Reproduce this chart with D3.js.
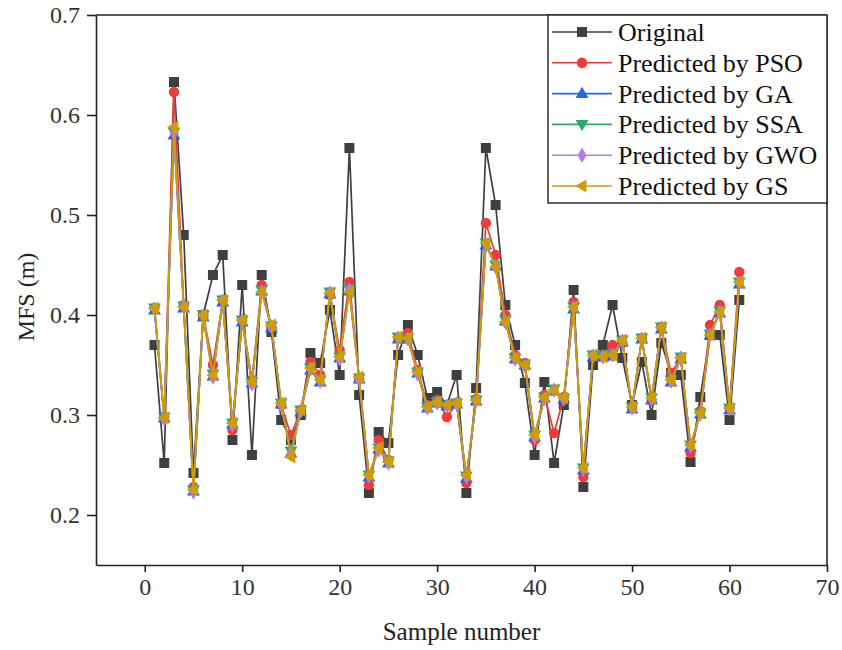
<!DOCTYPE html>
<html lang="en">
<head>
<meta charset="utf-8">
<title>MFS prediction</title>
<style>
 body { margin: 0; background: #fff; font-family: "Liberation Serif", "Times New Roman", serif; }
</style>
<script src="https://d3js.org/d3.v7.min.js"></script>
</head>
<body>
<div id="chart"></div>
<script>

 //Data: sample 1..61
 const original = [0.370,0.252,0.633,0.480,0.242,0.400,0.440,0.460,0.275,0.430,
                   0.260,0.440,0.383,0.295,0.275,0.300,0.362,0.352,0.405,0.340,
                   0.567,0.320,0.222,0.283,0.272,0.360,0.390,0.360,0.317,0.323,
                   0.310,0.340,0.222,0.327,0.567,0.510,0.410,0.370,0.332,0.260,
                   0.333,0.252,0.310,0.425,0.228,0.350,0.370,0.410,0.357,0.310,
                   0.353,0.300,0.372,0.342,0.340,0.253,0.318,0.380,0.380,0.295,
                   0.415];
 const pso = [0.407,0.298,0.623,0.410,0.228,0.400,0.350,0.415,0.285,0.395,
              0.335,0.430,0.388,0.310,0.280,0.305,0.353,0.340,0.420,0.365,
              0.433,0.336,0.230,0.275,0.255,0.377,0.382,0.345,0.310,0.315,
              0.298,0.312,0.232,0.316,0.492,0.460,0.400,0.360,0.352,0.275,
              0.320,0.282,0.318,0.413,0.238,0.360,0.360,0.370,0.372,0.308,
              0.377,0.315,0.388,0.342,0.357,0.262,0.304,0.390,0.410,0.307,
              0.443];
 const ga = [0.405,0.297,0.580,0.407,0.224,0.398,0.339,0.413,0.291,0.393,
             0.332,0.424,0.387,0.311,0.262,0.303,0.345,0.333,0.421,0.357,
             0.424,0.336,0.238,0.266,0.252,0.376,0.376,0.342,0.307,0.312,
             0.309,0.311,0.237,0.314,0.470,0.449,0.394,0.356,0.350,0.278,
             0.317,0.324,0.316,0.406,0.245,0.358,0.358,0.359,0.373,0.306,
             0.376,0.315,0.386,0.333,0.356,0.268,0.301,0.380,0.402,0.305,
             0.431];
 const ssa = [0.407,0.298,0.583,0.409,0.225,0.400,0.341,0.415,0.292,0.395,
              0.333,0.425,0.389,0.312,0.264,0.305,0.347,0.335,0.423,0.358,
              0.426,0.337,0.240,0.267,0.254,0.378,0.377,0.343,0.308,0.313,
              0.310,0.312,0.239,0.315,0.472,0.450,0.395,0.357,0.351,0.280,
              0.318,0.326,0.317,0.408,0.247,0.360,0.360,0.361,0.375,0.308,
              0.377,0.317,0.388,0.335,0.358,0.270,0.302,0.381,0.404,0.307,
              0.433];
 const gwo = [0.406,0.296,0.582,0.408,0.223,0.399,0.338,0.414,0.290,0.394,
              0.331,0.423,0.388,0.310,0.261,0.304,0.346,0.334,0.422,0.356,
              0.425,0.335,0.239,0.265,0.252,0.377,0.376,0.341,0.307,0.312,
              0.309,0.311,0.238,0.314,0.471,0.448,0.393,0.356,0.349,0.278,
              0.316,0.325,0.316,0.407,0.246,0.359,0.358,0.360,0.374,0.307,
              0.376,0.316,0.387,0.334,0.357,0.269,0.301,0.380,0.403,0.306,
              0.432];
 const gs = [0.407,0.297,0.588,0.408,0.225,0.400,0.340,0.415,0.292,0.395,
             0.333,0.423,0.390,0.312,0.258,0.305,0.347,0.335,0.422,0.358,
             0.423,0.338,0.240,0.267,0.253,0.378,0.377,0.343,0.308,0.313,
             0.310,0.312,0.240,0.315,0.472,0.448,0.393,0.357,0.350,0.280,
             0.318,0.325,0.317,0.408,0.247,0.360,0.358,0.360,0.375,0.308,
             0.377,0.317,0.388,0.335,0.357,0.270,0.302,0.380,0.403,0.307,
             0.433];

 const seriesNames = ['Original', 'Predicted by PSO', 'Predicted by GA', 'Predicted by SSA', 'Predicted by GWO', 'Predicted by GS'];
 const seriesValues = [original, pso, ga, ssa, gwo, gs];
 const seriesColors = ['#3f3f3f', '#f23a3a', '#2366e0', '#2fa868', '#b47be6', '#d09c00'];
 const seriesSymbols = [d3.symbolSquare, d3.symbolCircle, 'up', 'down', d3.symbolDiamond, 'left'];

 const xTicks = [0, 10, 20, 30, 40, 50, 60, 70];
 const yTicks = [0.2, 0.3, 0.4, 0.5, 0.6, 0.7];

 //Display specs
 const W = 842, H = 650;
 const margin = {top: 15, right: 15, bottom: 85, left: 96};
 const width = W - margin.left - margin.right;
 const height = H - margin.top - margin.bottom;

 const svg = d3.select('#chart').append('svg')
     .attr('width', W)
     .attr('height', H);

 const g = svg.append('g')
     .attr('transform', 'translate(' + margin.left + ',' + margin.top + ')');

 const x = d3.scaleLinear().domain([-5, 70]).range([0, width]);
 const y = d3.scaleLinear().domain([0.15, 0.7]).range([height, 0]);

 //Marker shapes
 function triPath(dir, s) {
     const pts = {
         up: [[0, -s], [s * 0.95, s * 0.65], [-s * 0.95, s * 0.65]],
         down: [[0, s], [s * 0.95, -s * 0.65], [-s * 0.95, -s * 0.65]],
         left: [[-s, 0], [s * 0.65, -s * 0.95], [s * 0.65, s * 0.95]]
     }[dir];
     return 'M' + pts.map(p => p.join(',')).join('L') + 'Z';
 }
 function markerPath(sym) {
     if (typeof sym === 'string') return triPath(sym, 6.8);
     const size = sym === d3.symbolDiamond ? 70 : (sym === d3.symbolSquare ? 100 : 85);
     return d3.symbol().type(sym).size(size)();
 }

 //Series
 const line = d3.line().x((d, i) => x(i + 1)).y(d => y(d));

 seriesValues.forEach(function (vals, k) {
     const sg = g.append('g');
     sg.append('path')
       .datum(vals)
       .attr('fill', 'none')
       .attr('stroke', seriesColors[k])
       .attr('stroke-width', 1.7)
       .attr('d', line);
     sg.selectAll('path.m')
       .data(vals)
       .enter()
       .append('path')
       .attr('class', 'm')
       .attr('transform', (d, i) => 'translate(' + x(i + 1) + ',' + y(d) + ')')
       .attr('d', markerPath(seriesSymbols[k]))
       .attr('fill', seriesColors[k]);
 });

 //Axes
 const xAxis = g.append('g')
     .attr('transform', 'translate(0,' + height + ')')
     .call(d3.axisBottom(x).tickValues(xTicks).tickSize(7).tickPadding(6).tickSizeOuter(0));
 const yAxis = g.append('g')
     .call(d3.axisLeft(y).tickValues(yTicks).tickFormat(d3.format('.1f')).tickSize(9).tickPadding(7).tickSizeOuter(0));

 [xAxis, yAxis].forEach(a => {
     a.selectAll('path, line').attr('stroke', '#222').attr('stroke-width', 1.6);
     a.selectAll('text').attr('fill', '#333').style('font-size', '24px').style('font-family', '"Liberation Serif", serif');
 });

 //Frame top/right
 g.append('line').attr('x1', 0).attr('x2', width).attr('y1', 0).attr('y2', 0)
  .attr('stroke', '#222').attr('stroke-width', 1.6);
 g.append('line').attr('x1', width).attr('x2', width).attr('y1', 0).attr('y2', height)
  .attr('stroke', '#222').attr('stroke-width', 1.6);

 //Axis titles
 g.append('text')
  .attr('x', width / 2)
  .attr('y', height + 75)
  .attr('text-anchor', 'middle')
  .style('font-size', '25px')
  .attr('fill', '#222')
  .text('Sample number');

 g.append('text')
  .attr('transform', 'translate(' + (-62) + ',' + (height / 2 + 7) + ')rotate(-90)')
  .attr('text-anchor', 'middle')
  .style('font-size', '24px')
  .attr('fill', '#222')
  .text('MFS (m)');

 //Legend
 const lg = g.append('g').attr('transform', 'translate(' + (548 - margin.left) + ',0)');
 lg.append('rect')
   .attr('x', 0).attr('y', 0)
   .attr('width', width - (548 - margin.left)).attr('height', 188)
   .attr('fill', '#fff').attr('stroke', '#222').attr('stroke-width', 1.4);

 seriesNames.forEach(function (name, k) {
     const ry = 17 + k * 30.8;
     lg.append('line')
       .attr('x1', 4).attr('x2', 64).attr('y1', ry).attr('y2', ry)
       .attr('stroke', seriesColors[k]).attr('stroke-width', 1.6);
     lg.append('path')
       .attr('transform', 'translate(34,' + ry + ')')
       .attr('d', markerPath(seriesSymbols[k]))
       .attr('fill', seriesColors[k]);
     lg.append('text')
       .attr('x', 70).attr('y', ry + 9)
       .style('font-size', '26px')
       .attr('fill', '#111')
       .text(name);
 });

</script>
</body>
</html>
